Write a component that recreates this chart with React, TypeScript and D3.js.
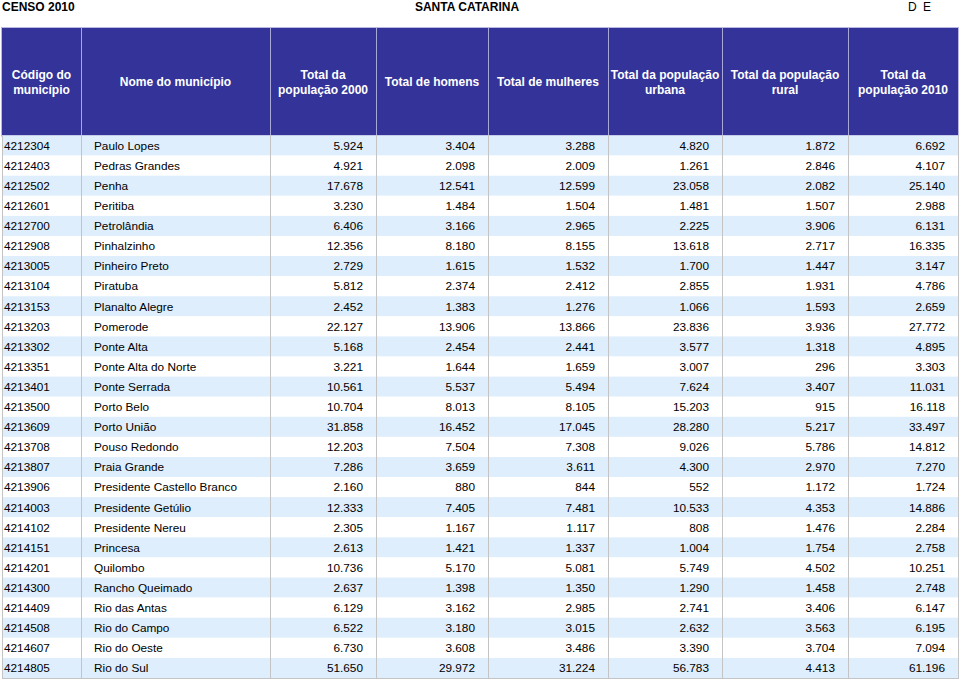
import React from "react";
import * as d3 from "d3";

const headers: string[][] = [
  ["Código do", "município"],
  ["Nome do município"],
  ["Total da", "população 2000"],
  ["Total de homens"],
  ["Total de mulheres"],
  ["Total da população", "urbana"],
  ["Total da população", "rural"],
  ["Total da", "população 2010"],
];

const codes = [
  "4212304","4212403","4212502","4212601","4212700","4212908","4213005","4213104","4213153",
  "4213203","4213302","4213351","4213401","4213500","4213609","4213708","4213807","4213906",
  "4214003","4214102","4214151","4214201","4214300","4214409","4214508","4214607","4214805",
];
const names = [
  "Paulo Lopes","Pedras Grandes","Penha","Peritiba","Petrolândia","Pinhalzinho","Pinheiro Preto",
  "Piratuba","Planalto Alegre","Pomerode","Ponte Alta","Ponte Alta do Norte","Ponte Serrada",
  "Porto Belo","Porto União","Pouso Redondo","Praia Grande","Presidente Castello Branco",
  "Presidente Getúlio","Presidente Nereu","Princesa","Quilombo","Rancho Queimado","Rio das Antas",
  "Rio do Campo","Rio do Oeste","Rio do Sul",
];
const pop2000 = [5924,4921,17678,3230,6406,12356,2729,5812,2452,22127,5168,3221,10561,10704,31858,12203,7286,2160,12333,2305,2613,10736,2637,6129,6522,6730,51650];
const homens = [3404,2098,12541,1484,3166,8180,1615,2374,1383,13906,2454,1644,5537,8013,16452,7504,3659,880,7405,1167,1421,5170,1398,3162,3180,3608,29972];
const mulheres = [3288,2009,12599,1504,2965,8155,1532,2412,1276,13866,2441,1659,5494,8105,17045,7308,3611,844,7481,1117,1337,5081,1350,2985,3015,3486,31224];
const urbana = [4820,1261,23058,1481,2225,13618,1700,2855,1066,23836,3577,3007,7624,15203,28280,9026,4300,552,10533,808,1004,5749,1290,2741,2632,3390,56783];
const rural = [1872,2846,2082,1507,3906,2717,1447,1931,1593,3936,1318,296,3407,915,5217,5786,2970,1172,4353,1476,1754,4502,1458,3406,3563,3704,4413];
const pop2010 = [6692,4107,25140,2988,6131,16335,3147,4786,2659,27772,4895,3303,11031,16118,33497,14812,7270,1724,14886,2284,2758,10251,2748,6147,6195,7094,61196];

const numericCols = [pop2000, homens, mulheres, urbana, rural, pop2010];

const fmt = (v: number) => d3.format(",")(v).replace(/,/g, ".");

export default function App() {
  const W = 960, H = 681;
  const colEdges = [2, 81, 270, 376, 488, 608, 722, 848, 958];
  const headerTop = 28, headerBottom = 135.5, tableBottom = 678;
  const y = d3.scaleBand<number>().domain(d3.range(codes.length)).range([headerBottom, tableBottom]);
  const font = "'Liberation Sans', Arial, Helvetica, sans-serif";
  const rows = d3.range(codes.length);
  return (
    <svg width={W} height={H} style={{ position: "absolute", left: 0, top: 0, background: "#fff" }} fontFamily={font}>
      <text x={2} y={11} fontSize={12} fontWeight="bold" fill="#000">CENSO 2010</text>
      <text x={467} y={11} fontSize={12} fontWeight="bold" fill="#000" textAnchor="middle">SANTA CATARINA</text>
      <text x={908} y={11} fontSize={12} fill="#000">D</text>
      <text x={923} y={11} fontSize={12} fill="#000">E</text>

      <rect x={colEdges[0]} y={headerTop} width={colEdges[8] - colEdges[0]} height={headerBottom - headerTop} fill="#333399" />
      {colEdges.slice(1, -1).map((x, i) => (
        <line key={"hs" + i} x1={x + 0.5} x2={x + 0.5} y1={headerTop} y2={headerBottom} stroke="#a8a8d8" strokeWidth={1} />
      ))}
      <rect x={colEdges[0] - 0.5} y={headerTop - 0.5} width={colEdges[8] - colEdges[0] + 1} height={headerBottom - headerTop + 1} fill="none" stroke="#b8b8e0" strokeWidth={1} />
      {headers.map((lines, i) => {
        const cx = (colEdges[i] + colEdges[i + 1]) / 2;
        const cy = (headerTop + headerBottom) / 2;
        return (
          <text key={"h" + i} x={cx} textAnchor="middle" fontSize={12} fontWeight="bold" fill="#fff">
            {lines.map((l, j) => (
              <tspan key={j} x={cx} y={cy + 4.5 + (j - (lines.length - 1) / 2) * 15.5}>{l}</tspan>
            ))}
          </text>
        );
      })}

      {rows.map((r) => (
        <rect key={"bg" + r} x={colEdges[0]} y={y(r)!} width={colEdges[8] - colEdges[0]} height={y.bandwidth()} fill={r % 2 === 0 ? "#deeefc" : "#ffffff"} />
      ))}
      {colEdges.map((x, i) => (
        <line key={"vs" + i} x1={x + 0.5} x2={x + 0.5} y1={headerBottom} y2={tableBottom} stroke="#c4c4c4" strokeWidth={1} />
      ))}
      <line x1={colEdges[0]} x2={colEdges[8] + 1} y1={tableBottom + 0.5} y2={tableBottom + 0.5} stroke="#c4c4c4" strokeWidth={1} />

      {rows.map((r) => {
        const ty = y(r)! + y.bandwidth() / 2 + 4.3;
        return (
          <g key={"row" + r} fontSize={11.8} fill="#000">
            <text x={4} y={ty}>{codes[r]}</text>
            <text x={94} y={ty}>{names[r]}</text>
            {numericCols.map((col, c) => (
              <text key={c} x={colEdges[c + 3] - 13} y={ty} textAnchor="end">{fmt(col[r])}</text>
            ))}
          </g>
        );
      })}
    </svg>
  );
}
